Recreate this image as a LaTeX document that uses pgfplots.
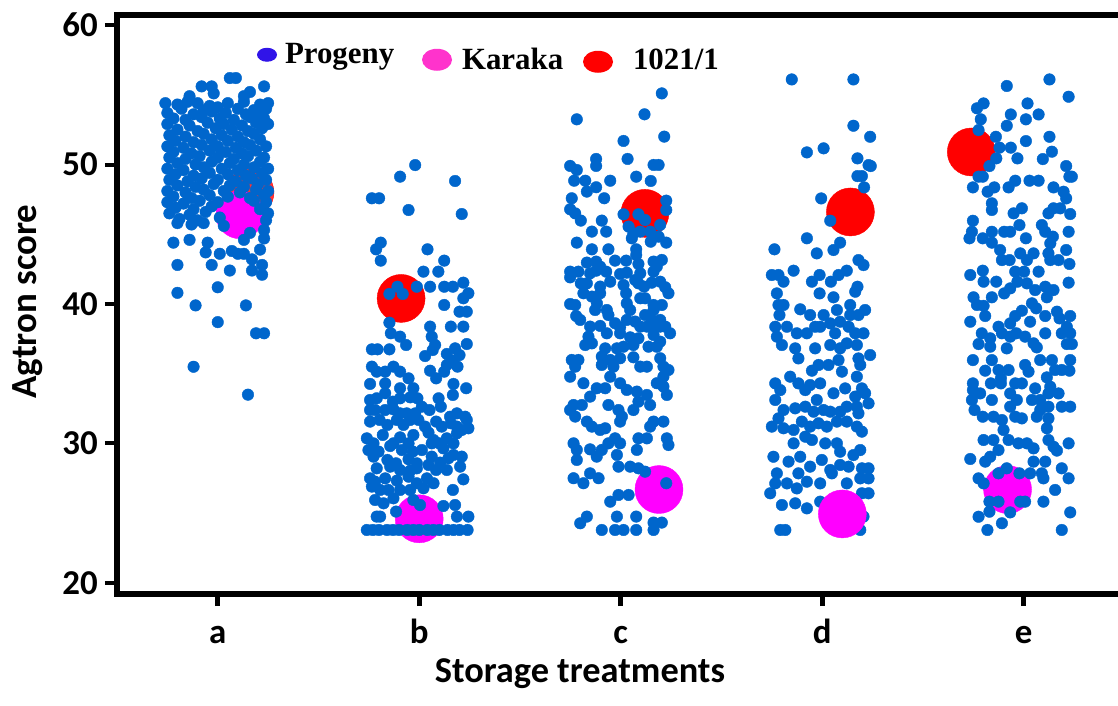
\documentclass[border=0pt]{standalone}
\usepackage{fontspec}
\setmainfont{Carlito}
\newfontfamily\legendfont{Liberation Serif}
\usepackage{pgfplots}
\pgfplotsset{compat=1.18}

\definecolor{dotblue}{RGB}{0,102,204}
\definecolor{progblue}{RGB}{48,20,232}
\definecolor{karakalegend}{RGB}{255,51,204}
\definecolor{karaka}{RGB}{255,0,255}
\definecolor{parentred}{RGB}{255,0,0}

\pgfplotsset{
  progeny/.style={only marks, color=dotblue, mark=*, mark size=5.8bp,
    mark options={draw=none, fill=dotblue}, forget plot},
  parent/.style={only marks, color=#1, mark=*, mark size=24bp,
    mark options={draw=none, fill=#1}, forget plot},
}

\begin{document}
\begin{tikzpicture}
\begin{axis}[
  name=ax,
  scale only axis, width=1001bp, height=579bp,
  xmin=0.5, xmax=5.468, ymin=19.21, ymax=60.72,
  axis x line*=bottom, axis y line*=left,
  axis line style={line width=6bp, line cap=rect, -},
  tick align=outside,
  major tick length=12bp,
  xtick={1,2,3,4,5}, xticklabels={a,b,c,d,e},
  ytick={20,30,40,50,60},
  xtick style={line width=5bp, black},
  ytick style={line width=4bp, black},
  /pgf/number format/assume math mode=true,
  yticklabel style={font=\bfseries\fontsize{35}{40}\selectfont, anchor=east, inner sep=0pt, xshift=-7bp},
  xticklabel style={font=\bfseries\fontsize{35}{40}\selectfont, anchor=base, inner sep=0pt, yshift=-37bp},
  xlabel={Storage treatments},
  xlabel style={at={(axis description cs:0.4625,-0.152)}, anchor=base, inner sep=0pt,
    font=\bfseries\fontsize{36.5}{42}\selectfont},
  ylabel={Agtron score},
  ylabel style={at={(axis description cs:-0.0809,0.5052)}, anchor=base, inner sep=0pt,
    font=\bfseries\fontsize{37}{42}\selectfont},
  legend columns=3,
  legend style={at={(axis description cs:0.1379,0.9507)}, anchor=north west,
    draw=none, fill=none, inner sep=0pt, outer sep=0pt, column sep=0pt, row sep=0pt,
    cells={anchor=base west},
    nodes={inner sep=0pt, outer sep=0pt, text depth=0pt,
      font=\legendfont\bfseries\fontsize{31}{36}\selectfont}},
]

% parent clones, behind the progeny dots
\addplot[parent=parentred, fill opacity=0.8, mark options={fill opacity=0.8}] coordinates {(1.16,48.0)};
\addplot[parent=parentred] coordinates {(1.91,40.4) (3.12,46.5) (4.14,46.6) (4.74,50.9)};
\addplot[parent=karaka] coordinates {(1.11,46.4) (2.00,24.6) (3.19,26.7) (4.92,26.7)};

% progeny, treatment a
\addplot[progeny] table {
x y
1.06 56.2
1.09 56.2
0.92 55.6
0.97 55.6
1.23 55.6
0.98 55.1
1.16 55.2
0.86 54.9
1.13 54.9
0.74 54.4
0.80 54.3
0.85 54.5
0.90 54.4
0.96 54.2
1.05 54.4
1.13 54.5
1.21 54.3
1.25 54.4
0.82 54.0
0.93 53.9
1.00 54.1
1.10 54.0
1.18 53.9
1.24 54.0
0.75 53.7
0.88 53.6
0.97 53.8
1.04 53.7
1.14 53.6
1.20 53.7
0.78 53.3
0.84 53.2
0.92 53.4
1.01 53.3
1.08 53.2
1.16 53.4
1.23 53.3
0.75 52.9
0.86 52.8
0.95 53.0
1.03 52.9
1.12 52.8
1.19 53.0
1.25 52.9
0.80 52.5
0.90 52.4
0.99 52.6
1.07 52.5
1.15 52.4
1.22 52.6
0.76 52.1
0.84 52.0
0.93 52.2
1.02 52.1
1.10 52.0
1.18 52.2
0.79 51.7
0.88 51.6
0.97 51.8
1.05 51.7
1.13 51.6
1.21 51.8
0.75 51.3
0.83 51.2
0.92 51.4
1.00 51.3
1.09 51.2
1.16 51.4
1.24 51.3
0.78 50.9
0.87 50.8
0.96 51.0
1.04 50.9
1.12 50.8
1.19 51.0
0.76 50.5
0.84 50.4
0.91 50.6
1.00 50.5
1.08 50.4
1.15 50.6
1.23 50.5
0.80 50.1
0.89 50.0
0.97 50.2
1.06 50.1
1.13 50.0
1.21 50.2
0.75 49.7
0.83 49.6
0.93 49.8
1.02 49.7
1.10 49.6
1.18 49.8
1.25 49.7
0.79 49.3
0.88 49.2
0.96 49.4
1.05 49.3
1.14 49.2
1.22 49.4
0.76 48.9
0.85 48.8
0.92 49.0
1.00 48.9
1.09 48.8
1.17 49.0
1.24 48.9
0.80 48.5
0.89 48.4
0.98 48.6
1.06 48.5
1.13 48.4
1.20 48.6
0.75 48.1
0.84 48.0
0.93 48.2
1.03 48.1
1.11 48.0
1.19 48.2
1.25 48.1
0.78 47.7
0.87 47.6
0.96 47.8
1.05 47.7
1.16 47.6
1.23 47.8
0.75 47.3
0.83 47.2
0.91 47.4
1.00 47.3
1.18 47.4
1.24 47.3
0.79 46.9
0.88 46.8
0.97 47.0
1.21 46.8
0.76 46.5
0.86 46.4
0.94 46.6
1.25 46.5
0.81 46.1
0.90 46.0
1.01 46.2
1.24 46.0
0.80 45.8
0.87 45.7
0.93 45.8
1.03 45.6
0.78 44.4
0.86 44.6
0.95 44.4
0.94 43.7
1.01 43.6
1.07 43.8
1.10 43.6
1.13 43.6
1.17 43.2
1.21 43.9
1.22 42.8
1.22 42.1
1.17 42.4
1.06 42.4
0.97 42.8
0.80 42.8
1.13 44.6
1.16 45.1
1.23 45.3
1.23 44.7
1.00 41.2
0.80 40.8
0.89 39.9
1.14 39.9
1.00 38.7
1.19 37.9
1.23 37.9
0.88 35.5
1.15 33.5
};

% progeny, treatment b
\addplot[progeny] table {
x y
1.980 49.96
1.905 49.13
2.178 48.82
1.765 47.58
1.801 47.58
1.947 46.74
2.211 46.45
1.809 44.40
1.786 43.92
1.809 43.11
2.041 43.92
2.124 43.11
2.021 42.32
2.095 42.32
2.219 41.53
1.852 40.72
1.892 41.24
1.918 40.72
1.988 41.24
2.054 41.24
2.124 41.24
2.167 41.24
2.244 40.77
2.219 40.41
2.124 39.93
2.200 39.45
2.236 39.45
1.852 38.66
2.054 38.38
2.157 38.38
2.219 38.38
1.859 37.90
1.905 37.66
1.935 37.06
2.062 37.66
2.079 37.06
2.236 37.13
1.765 36.75
1.793 36.75
1.852 36.75
2.067 36.70
2.029 36.27
2.137 36.42
2.178 36.82
2.200 36.34
2.167 35.94
2.137 35.63
2.124 35.15
2.190 35.51
1.765 35.51
1.789 35.15
1.831 35.15
1.872 35.51
1.905 35.15
1.947 34.67
2.054 35.22
2.084 34.67
1.756 34.27
1.831 34.31
1.905 33.96
1.971 33.96
2.170 34.27
2.167 33.48
2.233 33.96
1.756 33.12
1.789 33.24
1.831 33.60
1.869 33.00
1.905 33.24
1.955 33.31
1.991 33.24
2.096 33.24
2.107 32.64
1.756 32.40
1.781 32.40
1.831 32.40
1.872 32.45
1.905 32.16
1.938 32.16
1.980 32.16
2.013 32.64
2.051 32.40
2.153 31.92
2.187 32.16
2.228 31.92
1.756 31.57
1.803 31.69
1.842 31.33
1.889 31.69
1.922 31.33
1.955 31.69
1.996 31.69
2.029 31.21
2.084 31.57
2.112 31.21
2.157 31.45
2.187 31.21
2.236 31.69
2.244 31.09
1.740 30.37
1.773 30.01
1.819 30.61
1.872 30.01
1.905 30.44
1.947 30.01
1.971 30.61
2.046 30.78
2.071 30.25
2.100 30.01
2.137 30.37
2.187 30.73
2.211 30.97
1.748 29.53
1.798 29.42
1.856 29.82
1.914 29.53
1.968 29.42
2.013 29.53
2.062 30.01
2.120 29.65
2.170 29.18
2.211 29.06
2.170 30.01
1.773 29.06
1.842 28.82
1.885 28.58
1.947 28.87
1.988 28.58
2.062 29.06
2.104 28.63
2.145 28.94
2.203 28.34
1.789 28.22
1.856 28.34
1.905 28.10
1.955 28.05
1.988 28.22
2.046 28.46
2.084 28.10
2.137 28.10
1.756 27.50
1.781 27.26
1.831 27.50
1.889 27.34
1.947 27.62
1.988 27.15
2.038 27.50
2.071 27.15
2.219 27.43
1.765 26.91
1.806 26.67
1.847 26.67
1.905 26.67
1.955 26.67
2.021 26.79
2.167 26.67
1.781 25.95
1.823 25.71
1.872 26.07
1.971 25.95
2.004 25.59
2.120 25.52
2.178 25.59
1.789 24.76
1.806 24.76
1.885 25.12
2.187 24.76
2.244 24.76
1.740 23.80
1.770 23.80
1.800 23.80
1.840 23.80
1.870 23.80
1.900 23.80
1.940 23.80
1.970 23.80
2.000 23.80
2.040 23.80
2.070 23.80
2.100 23.80
2.140 23.80
2.170 23.80
2.200 23.80
2.240 23.80
};

% progeny, treatment c
\addplot[progeny] table {
x y
3.204 55.10
2.782 53.24
3.118 53.60
3.014 51.69
3.216 52.00
3.034 50.40
2.878 50.40
2.878 49.90
2.749 49.90
2.782 49.61
3.163 49.97
3.188 49.97
3.077 49.13
3.149 48.82
2.769 48.84
2.824 48.84
2.948 48.84
2.878 48.37
2.832 48.06
2.918 47.58
2.757 47.58
2.749 46.79
2.774 46.50
2.802 45.98
2.906 45.98
2.857 45.19
2.928 45.19
2.782 44.40
2.857 43.92
2.939 43.92
3.014 46.43
3.088 46.43
3.121 46.02
3.196 45.67
3.226 47.41
3.226 46.74
3.039 45.55
3.063 45.07
3.097 45.19
3.146 45.19
3.055 44.71
3.149 44.47
3.188 44.83
3.226 44.40
3.077 43.92
3.077 43.52
2.972 43.11
3.027 43.11
3.088 42.87
3.163 43.04
3.204 43.16
2.832 42.97
2.878 43.04
2.898 42.68
2.928 42.32
2.749 42.32
2.749 41.91
2.790 42.32
2.848 42.20
2.878 42.39
2.997 42.15
3.030 42.25
3.097 42.20
3.163 42.32
3.179 42.68
2.802 41.48
2.832 41.48
2.898 41.25
2.948 41.60
3.014 41.36
3.072 41.72
3.088 41.48
3.116 41.25
3.154 41.53
3.196 41.60
3.221 41.20
3.237 40.77
2.815 40.77
2.857 40.53
2.898 40.77
3.027 40.77
3.097 40.41
3.121 40.41
2.749 40.00
2.774 39.93
2.882 40.05
2.931 39.57
3.030 40.05
3.047 39.57
3.163 39.93
3.204 39.93
3.163 39.57
2.779 39.14
2.799 38.86
2.873 39.57
2.939 39.21
3.121 39.21
3.154 38.86
3.196 38.86
2.848 38.38
2.898 38.43
2.972 38.62
2.997 38.33
3.030 38.86
3.072 38.74
3.097 38.38
3.130 38.38
3.171 38.38
3.196 38.38
3.221 38.38
3.245 37.90
2.840 37.66
2.931 37.90
2.997 37.90
3.047 37.61
3.088 37.54
3.163 37.78
2.824 37.06
2.857 37.18
2.923 36.82
2.981 36.82
3.014 36.94
3.063 37.06
3.138 36.94
3.179 36.94
3.196 37.30
2.757 35.99
2.790 35.99
2.774 35.51
2.749 34.79
2.906 36.23
2.906 35.63
2.948 35.99
2.964 35.51
2.997 36.11
3.063 36.18
3.097 35.51
3.130 35.51
3.196 36.11
3.212 35.51
3.237 35.27
3.212 34.79
2.815 34.32
2.881 33.96
2.923 33.96
2.948 34.79
2.997 34.32
3.030 33.84
3.080 33.72
3.130 33.48
3.179 34.32
3.212 34.08
3.229 33.48
2.766 32.76
2.749 32.40
2.807 32.76
2.848 33.36
2.939 32.76
2.989 32.40
3.006 31.93
3.063 32.40
3.088 33.00
3.146 32.76
2.774 31.93
2.832 31.57
2.857 31.21
2.898 30.97
2.923 31.09
2.997 31.57
3.146 31.21
3.163 31.57
3.212 31.57
2.766 30.01
2.782 29.54
2.848 29.58
2.881 29.06
2.906 29.54
2.939 30.01
2.972 30.37
2.997 30.01
3.080 29.54
3.088 30.37
3.130 30.37
3.229 30.37
3.237 29.89
2.782 28.82
2.981 29.18
2.989 28.34
3.047 28.34
3.088 28.22
3.121 27.98
2.766 27.51
2.815 27.15
2.848 27.86
2.890 27.51
3.226 27.15
2.948 25.83
2.989 26.31
3.039 26.31
2.799 24.28
2.832 24.76
2.981 24.76
3.077 24.76
3.163 24.33
3.204 24.33
2.906 23.80
2.972 23.80
3.014 23.80
3.077 23.80
3.163 23.80
};

% progeny, treatment d
\addplot[progeny] table {
x y
3.849 56.10
4.155 56.10
4.155 52.78
4.238 51.99
3.924 50.87
4.007 51.16
4.175 50.44
4.230 49.96
4.241 49.89
4.175 49.17
4.197 49.17
4.208 48.36
3.995 47.57
4.040 45.97
3.924 44.71
4.089 44.40
4.056 43.87
3.763 43.92
3.973 43.63
4.180 43.15
4.205 42.79
3.750 42.08
3.783 42.08
3.808 41.60
3.858 42.39
3.949 41.60
3.987 42.08
4.043 41.60
4.081 42.08
4.122 42.39
4.175 41.24
3.775 40.76
3.987 40.76
4.056 40.48
4.164 40.88
3.783 39.93
3.808 39.93
3.891 39.62
3.940 39.21
4.007 39.21
4.073 39.57
4.139 39.93
4.180 39.21
4.213 39.57
4.139 39.21
3.788 39.21
3.767 38.37
3.825 38.37
3.874 37.90
3.924 37.90
3.965 38.37
3.990 38.37
4.040 38.61
4.064 37.90
4.089 38.73
4.131 38.37
4.164 37.90
4.205 37.90
3.775 37.66
3.800 37.06
3.866 36.82
3.882 36.10
3.965 36.82
4.040 37.06
4.089 36.82
4.122 37.18
4.172 37.06
4.238 36.34
4.180 36.10
4.189 35.63
3.949 35.22
3.982 35.63
4.031 35.63
4.081 35.98
4.098 35.15
4.172 34.79
4.197 33.95
3.767 34.31
3.792 33.83
3.767 33.12
3.841 34.79
3.882 34.31
3.916 33.83
3.940 34.19
3.990 34.31
3.973 33.12
4.056 33.60
4.114 33.95
4.164 33.36
4.172 32.64
4.213 33.60
4.230 32.88
3.808 32.40
3.866 32.52
3.916 32.64
3.957 32.28
4.007 32.40
4.040 32.28
4.089 32.28
4.122 32.64
4.180 32.16
3.750 31.21
3.783 31.80
3.808 31.09
3.858 30.97
3.899 31.57
3.940 31.21
3.982 31.45
4.023 31.21
4.073 31.57
4.122 31.57
4.172 31.21
4.197 30.85
3.858 30.01
3.916 30.49
3.949 30.25
4.015 30.01
4.073 30.01
4.089 29.41
4.155 29.17
4.189 29.53
3.758 29.05
3.833 28.70
3.891 29.05
3.940 28.34
3.998 28.82
4.040 28.10
4.089 28.46
4.131 28.34
4.197 28.22
4.230 28.22
3.775 27.86
3.882 27.86
3.767 27.14
3.825 27.14
3.874 26.78
3.924 27.26
3.990 27.14
4.048 27.86
4.122 27.14
4.189 27.50
4.230 27.50
3.742 26.43
3.800 25.59
3.866 25.71
3.924 25.35
3.990 25.83
4.197 26.43
4.230 26.43
4.205 24.76
4.189 23.80
3.792 23.80
3.817 23.80
};

% progeny, treatment e
\addplot[progeny] table {
x y
5.128 56.10
4.916 55.63
5.223 54.86
4.768 54.03
4.801 54.38
5.019 54.38
4.936 53.59
5.011 53.24
5.074 53.59
4.787 53.24
4.916 52.78
4.776 52.47
4.862 51.99
5.128 51.99
5.011 51.68
4.880 51.21
4.936 51.21
5.140 50.92
4.864 50.44
4.969 50.44
5.095 50.39
4.830 49.89
5.211 49.89
4.776 49.13
4.797 49.13
5.227 49.13
5.239 49.13
4.748 48.36
4.821 48.05
4.854 48.36
4.925 48.36
4.958 48.84
5.029 48.84
5.074 48.84
5.148 48.36
5.198 48.05
5.211 47.57
4.842 47.22
4.842 46.74
4.950 46.50
4.991 46.86
5.123 46.50
5.148 46.86
5.181 46.86
5.231 46.45
4.748 45.97
4.979 45.66
5.090 45.66
5.107 45.18
5.145 44.83
5.132 44.35
4.743 45.18
4.731 44.71
4.797 44.71
4.842 45.18
4.842 44.40
4.903 45.18
4.933 45.18
5.011 44.71
5.223 45.18
4.883 43.87
4.892 43.15
4.930 43.15
4.983 43.63
5.049 43.63
5.016 43.15
5.123 43.63
5.132 43.15
5.173 43.15
5.211 43.87
5.227 42.87
4.735 42.08
4.797 42.39
4.801 41.60
4.864 41.60
4.958 42.32
5.002 42.32
5.074 42.32
4.903 40.76
4.933 41.12
4.969 41.60
5.016 41.48
5.057 41.00
5.107 41.24
5.148 41.00
5.223 41.53
4.751 40.48
4.768 39.93
4.842 40.48
4.801 39.87
5.041 40.05
5.062 39.69
5.115 40.48
4.735 38.73
4.809 39.14
4.875 38.37
4.933 38.61
4.958 39.14
4.991 39.52
5.032 38.73
5.107 39.14
5.165 39.45
5.178 38.97
5.231 39.14
5.214 38.37
4.792 37.90
4.776 37.13
4.834 37.54
4.834 36.94
4.892 37.90
4.933 37.66
4.963 37.90
5.007 37.66
4.916 36.82
5.049 37.18
5.065 36.89
5.107 37.90
5.189 37.90
5.231 37.90
5.214 37.13
5.239 37.13
4.748 35.98
4.809 35.22
4.842 35.98
4.875 35.27
4.925 35.27
4.887 34.67
5.007 35.63
5.024 35.15
5.082 35.98
5.140 35.98
5.115 34.74
5.156 35.27
5.189 35.27
5.231 35.98
5.227 35.22
4.748 34.31
4.748 33.83
4.743 33.12
4.784 33.59
4.842 33.12
4.837 34.31
4.887 34.31
4.933 33.59
4.933 32.64
4.966 33.12
4.958 34.31
4.991 34.31
5.041 33.12
5.057 33.95
5.082 33.12
5.123 33.59
5.123 32.64
5.132 34.07
5.173 33.59
5.189 32.64
5.231 32.64
5.082 32.40
4.756 32.40
4.797 31.92
4.850 31.92
4.892 31.68
4.900 30.97
4.925 30.25
4.958 31.92
4.991 31.80
5.065 31.92
5.123 31.80
5.115 31.09
4.801 30.25
4.850 30.25
4.974 30.01
5.016 30.01
5.049 29.65
5.123 30.25
5.148 29.77
5.165 29.49
5.223 30.01
4.875 29.53
4.735 28.89
4.809 28.70
4.834 29.05
5.049 28.70
5.107 28.70
5.189 28.22
4.776 27.50
4.801 27.14
4.875 27.86
4.916 28.22
4.979 27.86
5.032 27.86
5.090 27.86
5.098 27.50
5.223 27.50
5.156 26.67
4.830 25.83
4.875 25.83
4.983 25.83
5.007 25.83
5.098 25.83
4.830 25.11
4.933 25.06
5.231 25.06
4.776 24.75
4.892 24.28
4.820 23.80
5.189 23.80
};

% Karaka under treatment d sits in front of the progeny
\addplot[parent=karaka] coordinates {(4.10,24.95)};

% legend
\addlegendimage{legend image code/.code={%
  \path[draw=none] (0bp,0bp) -- (30bp,0bp);
  \fill[progblue, draw=none] (12bp,15bp) ellipse [x radius=10bp, y radius=7bp];}}
\addlegendentry{\makebox[105bp][l]{\raisebox{6bp}{Progeny}}}
\addlegendimage{legend image code/.code={%
  \path[draw=none] (0bp,0bp) -- (72bp,0bp);
  \fill[karakalegend, draw=none] (47bp,10bp) ellipse [x radius=15bp, y radius=11bp];}}
\addlegendentry{\makebox[97bp][l]{Karaka}}
\addlegendimage{legend image code/.code={%
  \path[draw=none] (0bp,0bp) -- (74bp,0bp);
  \fill[parentred, draw=none] (39bp,8bp) ellipse [x radius=15bp, y radius=11bp];}}
\addlegendentry{1021/1}
\end{axis}
% upper frame line
\draw[line width=6bp, line cap=rect] (ax.north west) -- (ax.north east);
\pgfresetboundingbox
\path (-117bp,-112bp) rectangle (1001bp,594bp);
\end{tikzpicture}
\end{document}
